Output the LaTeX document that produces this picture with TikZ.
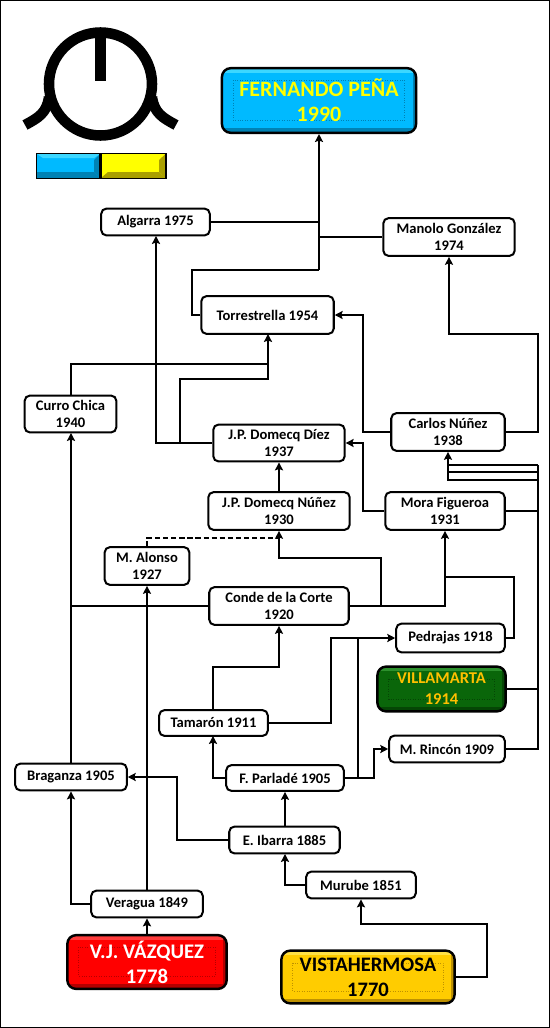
\documentclass[tikz,border=0pt]{standalone}
\usepackage{fontspec}
\setmainfont{Carlito}
\usetikzlibrary{arrows.meta}
\definecolor{skyfill}{RGB}{0,186,255}
\definecolor{skylight}{RGB}{60,215,255}
\definecolor{skydark}{RGB}{0,130,180}
\definecolor{yelfill}{RGB}{255,255,0}
\definecolor{yeldark}{RGB}{170,160,0}
\definecolor{redfill}{RGB}{255,0,0}
\definecolor{redlight}{RGB}{255,60,60}
\definecolor{reddark}{RGB}{180,0,0}
\definecolor{goldfill}{RGB}{255,204,0}
\definecolor{goldlight}{RGB}{255,225,70}
\definecolor{golddark}{RGB}{190,145,0}
\definecolor{greenfill}{RGB}{10,102,10}
\definecolor{greenlight}{RGB}{45,145,45}
\definecolor{greendark}{RGB}{5,70,5}
\definecolor{goldtext}{RGB}{255,192,0}
\tikzset{
  link/.style={line width=1.15pt},
  tolink/.style={line width=1.15pt,-{Stealth[length=4.5pt,width=4.6pt,inset=0.8pt]}},
  ganaderia/.style={draw,line width=1.15pt,rounded corners=3pt,fill=white,font=\bfseries\fontsize{8.3}{9.8}\selectfont,align=center,inner sep=0pt},
  encaste/.style n args={3}{draw,line width=1.4pt,rounded corners=5pt,align=center,inner sep=0pt,fill=#1,
    path picture={
      \fill[#2,sharp corners] (path picture bounding box.north west) rectangle ([yshift=-2.6pt]path picture bounding box.north east);
      \fill[#3,sharp corners] (path picture bounding box.south west) rectangle ([yshift=2.6pt]path picture bounding box.south east);
      \fill[#3,sharp corners] (path picture bounding box.south east) rectangle ([xshift=-2pt]path picture bounding box.north east);
      \draw[#3,sharp corners,line width=.4pt,densely dotted] ([shift={(6.5pt,-7pt)}]path picture bounding box.north west) rectangle ([shift={(-6.5pt,7pt)}]path picture bounding box.south east);
    }}
}
\begin{document}
\begin{tikzpicture}[x=0.02cm,y=-0.02cm]
        \useasboundingbox (0,0) rectangle (550,1028);
        \draw[line width=1pt] (0.5,0.5) rectangle (549.5,1027.5);

        % emblem
        \draw[line width=6pt] (100.5,84) circle (51.5);
        \draw[line width=6pt] (100.5,32) -- (100.5,81);
        \draw[line width=6pt] (25,125) .. controls (38,118) and (47,113) .. (49,97);
        \draw[line width=6pt] (176,125) .. controls (163,118) and (154,113) .. (152,97);
        % colours
        \draw[line width=1pt,fill=skyfill] (36.5,153.5) rectangle (100.5,178.5);
        \draw[line width=1pt,fill=yelfill] (100.5,153.5) rectangle (166,178.5);
        \fill[skydark] (37,172) -- (43,172) -- (94,172) -- (100,178) -- (37,178) -- cycle;
        \fill[skydark] (94,160) -- (100,154) -- (100,178) -- (94,172) -- cycle;
        \fill[skylight] (37,154) -- (100,154) -- (94,158) -- (43,158) -- cycle;
        \fill[yeldark] (108,172) -- (159,172) -- (165.5,178) -- (101,178) -- cycle;
        \fill[yeldark] (159,160) -- (165.5,154) -- (165.5,178) -- (159,172) -- cycle;
        \draw[line width=1pt] (36.5,153.5) rectangle (166,178.5);
        \draw[line width=1.2pt] (100.5,153.5) -- (100.5,178.5);

        % big boxes
        \node[encaste={skyfill}{skylight}{skydark},text=yelfill,font=\bfseries\fontsize{12.5}{14.3}\selectfont,minimum width=110.5pt,minimum height=36.8pt] (FP) at (319,100.5) {FERNANDO PEÑA\\1990};
        \node[encaste={redfill}{redlight}{reddark},text=white,font=\bfseries\fontsize{11.8}{14.3}\selectfont,minimum width=90.7pt,minimum height=30.6pt] (VJ) at (147,962) {V.J. VÁZQUEZ\\1778};
        \node[encaste={goldfill}{goldlight}{golddark},text=black,font=\bfseries\fontsize{11.7}{14.3}\selectfont,minimum width=98.6pt,minimum height=30pt] (VH) at (368,977) {VISTAHERMOSA\\1770};
        \node[encaste={greenfill}{greenlight}{greendark},text=goldtext,font=\bfseries\fontsize{9.4}{11.9}\selectfont,minimum width=73pt,minimum height=25.5pt] (VM) at (441.5,689) {VILLAMARTA\\1914};

        % small boxes
        \node[ganaderia,minimum width=61.8pt,minimum height=15.3pt] (AL) at (155.5,222) {Algarra 1975};
        \node[ganaderia,minimum width=74.8pt,minimum height=21.5pt] (MG) at (449,237) {Manolo González\\1974};
        \node[ganaderia,minimum width=75.4pt,minimum height=21.5pt] (TO) at (267.5,315) {Torrestrella 1954};
        \node[ganaderia,minimum width=64.6pt,minimum height=21.5pt] (CN) at (448,432) {Carlos Núñez\\1938};
        \node[ganaderia,minimum width=74.8pt,minimum height=21pt] (DD) at (279,443) {J.P. Domecq Díez\\1937};
        \node[ganaderia,minimum width=52.2pt,minimum height=21pt] (CC) at (70.5,414) {Curro Chica\\1940};
        \node[ganaderia,minimum width=80.5pt,minimum height=21.5pt] (DN) at (279,511) {J.P. Domecq Núñez\\1930};
        \node[ganaderia,minimum width=68pt,minimum height=21.5pt] (MO) at (445,511) {Mora Figueroa\\1931};
        \node[ganaderia,minimum width=48.2pt,minimum height=21.5pt] (AO) at (147,566) {M. Alonso\\1927};
        \node[ganaderia,minimum width=79.4pt,minimum height=21.5pt] (CO) at (279,606) {Conde de la Corte\\1920};
        \node[ganaderia,minimum width=61.8pt,minimum height=16.4pt] (PE) at (450.5,638) {Pedrajas 1918};
        \node[ganaderia,minimum width=61.8pt,minimum height=14.7pt] (TA) at (213.5,723) {Tamarón 1911};
        \node[ganaderia,minimum width=65.8pt,minimum height=15.3pt] (RI) at (447,749) {M. Rincón 1909};
        \node[ganaderia,minimum width=63.5pt,minimum height=15.3pt] (BR) at (71,777) {Braganza 1905};
        \node[ganaderia,minimum width=66.9pt,minimum height=14.7pt] (PA) at (285,778) {F. Parladé 1905};
        \node[ganaderia,minimum width=62.9pt,minimum height=15.3pt] (IB) at (284.5,840) {E. Ibarra 1885};
        \node[ganaderia,minimum width=62.4pt,minimum height=15.3pt] (MU) at (361,885) {Murube 1851};
        \node[ganaderia,minimum width=63.5pt,minimum height=15.3pt] (VE) at (147,904) {Veragua 1849};

        % bottom up
        \draw[tolink] (VH.east) -- (487,977) -- (487,924) -- (361,924) -- (MU.south);
        \draw[tolink] (MU.west) -- (285,885) -- (285,854);
        \draw[tolink] (IB.north -| PA) -- (PA.south);
        \draw[tolink] (IB.west) -- (177,840) -- (177,777) -- (BR.east);
        \draw[tolink] (VJ.north) -- (VE.south);
        \draw[tolink] (VE.west) -- (71,904) -- (BR.south);
        \draw[tolink] (VE.north) -- (AO.south);
        \draw[tolink] (BR.north) -- (71,433);
        \draw[tolink] (CC.north -| BR) -- (71,364) -- (268,364) -- (268,334);
        \draw[link] (CO.west) -- (71,606);
        \draw[tolink] (PA.west) -- (213,778) -- (213,736);
        \draw[tolink] (213,710) -- (213,667) -- (279,667) -- (CO.south);
        \draw[tolink] (TA.east) -- (331,723) -- (331,638) -- (PE.west);
        \draw[tolink] (PA.east) -- (374,778) -- (374,749) -- (RI.west);
        \draw[link] (358,778) -- (358,638);
        \draw[link] (PE.east) -- (514,638) -- (514,577) -- (445,577);
        \draw[tolink] (CO.east) -- (445,606) -- (MO.south);
        \draw[tolink] (381,606) -- (381,558) -- (279,558) -- (DN.south);
        \draw[tolink] (DN.north) -- (DD.south);
        \draw[link,dash pattern=on 3pt off 1.6pt] (AO.north) -- (147,538) -- (279,538);
        \draw[tolink] (MO.west) -- (363,511) -- (363,443) -- (DD.east);
        \draw[tolink] (DD.west) -- (156,443) -- (156,236);
        \draw[link] (180,443) -- (180,379) -- (268,379) -- (268,364);
        \draw[tolink] (CN.west) -- (363,432) -- (363,315) -- (TO.east);
        \draw[tolink] (CN.east) -- (538,432) -- (538,334) -- (449,334) -- (MG.south);
        % joined at the right
        \draw[link] (RI.east) -- (538,749) -- (538,465);
        \draw[link] (VM.east) -- (538,689);
        \draw[link] (MO.east) -- (538,511);
        \draw[link] (538,465) -- (448,465);
        \draw[link] (538,472) -- (448,472);
        \draw[tolink] (538,480) -- (448,480) -- (CN.south);
        % top
        \draw[link] (TO.west) -- (192,315) -- (192,270) -- (319,270);
        \draw[link] (MG.west) -- (319,237);
        \draw[link] (AL.east) -- (319,222);
        \draw[tolink] (319,270) -- (FP.south);
    \end{tikzpicture}
\end{document}
